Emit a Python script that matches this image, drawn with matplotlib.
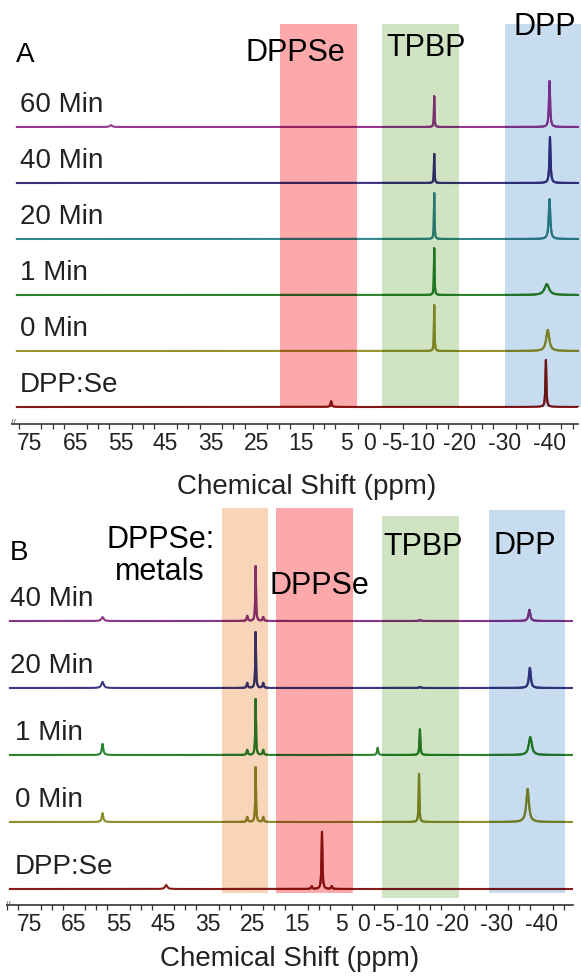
import numpy as np
import matplotlib.pyplot as plt
from matplotlib.colors import to_rgb
from matplotlib.ticker import MultipleLocator
from matplotlib.transforms import ScaledTranslation

plt.rcParams["font.family"] = ["Liberation Sans", "DejaVu Sans"]

W, H = 581, 976

# ---------------- panel A: peak lists (ppm, relative intensity, half width) ----
a_rows = ["60 Min", "40 Min", "20 Min", "1 Min", "0 Min", "DPP:Se"]
a_colors = ["#963890", "#38347e", "#32868a", "#2a842c", "#96942a", "#861818"]
a_peak_ppm = [
    [57.1, -14.4, -39.9],
    [-14.4, -40.0],
    [-14.4, -39.9],
    [-14.4, -39.3],
    [-14.4, -39.5],
    [8.4, -39.1],
]
a_peak_int = [
    [0.04, 0.66, 0.98],
    [0.62, 0.98],
    [0.98, 0.85],
    [1.00, 0.23],
    [0.98, 0.45],
    [0.12, 1.00],
]
a_peak_hw = [
    [0.3, 0.08, 0.15],
    [0.08, 0.15],
    [0.08, 0.2],
    [0.08, 0.6],
    [0.08, 0.4],
    [0.15, 0.12],
]
a_bands = [(19.7, 2.7, "#fda9ab"), (-2.9, -19.9, "#d0e4c4"), (-30.1, -47.5, "#c8dcf0")]

# ---------------- panel B ----------------
b_rows = ["40 Min", "20 Min", "1 Min", "0 Min", "DPP:Se"]
b_colors = ["#8a3686", "#3a3882", "#2a842c", "#8a8e2a", "#881a1a"]
b_peak_ppm = [
    [58.6, 26.1, 24.2, 22.5, -12.7, -37.3],
    [58.6, 26.1, 24.2, 22.5, -12.7, -37.4],
    [58.6, 26.1, 24.2, 22.5, -3.2, -12.7, -37.5],
    [58.6, 26.1, 24.2, 22.5, -12.5, -36.9],
    [44.3, 11.6, 9.3, 7.1],
]
b_peak_int = [
    [0.07, 0.09, 0.98, 0.07, 0.02, 0.20],
    [0.11, 0.09, 1.00, 0.09, 0.02, 0.36],
    [0.20, 0.09, 1.00, 0.09, 0.13, 0.46, 0.32],
    [0.16, 0.09, 0.98, 0.09, 0.86, 0.59],
    [0.07, 0.05, 1.02, 0.05],
]
b_peak_hw = [
    [0.3, 0.15, 0.1, 0.15, 0.2, 0.25],
    [0.3, 0.15, 0.1, 0.15, 0.2, 0.25],
    [0.2, 0.15, 0.1, 0.15, 0.15, 0.12, 0.4],
    [0.2, 0.15, 0.1, 0.15, 0.1, 0.35],
    [0.3, 0.15, 0.12, 0.15],
]
b_bands = [(31.7, 21.5, "#f8d4b8"), (19.6, 2.4, "#fda9ab"),
           (-4.3, -21.6, "#d0e4c4"), (-28.3, -45.3, "#c8dcf0")]

tick_vals = [75, 65, 55, 45, 35, 25, 15, 5, 0, -5, -10, -20, -30, -40]
tick_labels = ["75", "65", "55", "45", "35", "25", "15", "5", "0",
               "-5", "-10", "-20", "-30", "-40"]


def spectrum(x, ppm, inten, hw):
    y = np.zeros_like(x)
    for p, h, w in zip(ppm, inten, hw):
        y += h / (1.0 + ((x - p) / w) ** 2)
    return y


def multiply(c1, c2):
    a, b = to_rgb(c1), to_rgb(c2)
    return tuple(u * v for u, v in zip(a, b))


def px_text(fig, x, y, s, size, **kw):
    fig.text(x / W, 1 - y / H, s, fontsize=size, **kw)


def setup_axis(fig, ax, xlim, height):
    ax.set_xlim(*xlim)
    ax.set_ylim(0, height)
    for side in ["top", "right", "left"]:
        ax.spines[side].set_visible(False)
    ax.spines["bottom"].set_color("#333333")
    ax.spines["bottom"].set_linewidth(1.2)
    ax.set_yticks([])
    ax.set_xticks(tick_vals, labels=tick_labels)
    ax.xaxis.set_minor_locator(MultipleLocator(2.5))
    ax.tick_params(axis="x", which="major", length=0, pad=5.5,
                   labelsize=16.5, labelcolor="#222222")
    ax.tick_params(axis="x", which="minor", length=3.5, width=0.9,
                   color="#333333")
    ax.patch.set_alpha(0)
    # the "-10" label sits just right of its tick so it does not run into "-5"
    for lab in ax.get_xticklabels():
        if lab.get_text() == "-10":
            lab.set_transform(lab.get_transform()
                              + ScaledTranslation(4.5 / 100, 0, fig.dpi_scale_trans))


def draw_panel(ax, x, rows, colors, ppm, inten, hw, scale, base0, step, bands, spans):
    patches = []
    for (x0, x1, c), (lo, hi) in zip(bands, spans):
        p = ax.axvspan(x0, x1, ymin=lo, ymax=hi, color=c, lw=0, zorder=1,
                       clip_on=False)
        patches.append((p, c))
    bases = []
    for i in range(len(rows)):
        base = base0 - i * step
        bases.append(base)
        y = base + scale * spectrum(x, ppm[i], inten[i], hw[i])
        ax.plot(x, y, color=colors[i], lw=1.5, zorder=2)
        # inside a coloured band the trace looks tinted by the band
        for p, c in patches:
            ln, = ax.plot(x, y, color=multiply(colors[i], c), lw=1.5, zorder=2.5)
            ln.set_clip_path(p)
    return bases


fig = plt.figure(figsize=(W / 100, H / 100), dpi=100)

# ---------------- panel A ----------------
axA = fig.add_axes([12 / W, 1 - 424 / H, 566 / W, 400 / H])
setup_axis(fig, axA, (78.98, -46.2), 400)
xa = np.linspace(77.9, -46.2, 12000)
spans_a = [(17 / 400, 1.0)] * 3
bases = draw_panel(axA, xa, a_rows, a_colors, a_peak_ppm, a_peak_int, a_peak_hw,
                   47, 297, 56, a_bands, spans_a)
for name, base in zip(a_rows, bases):
    px_text(fig, 20, 424 - base - 22, name, 20, color="#222222",
            va="center", ha="left")

px_text(fig, 16, 55, "A", 20, va="center", ha="left")
px_text(fig, 245, 53, "DPPSe", 22, va="center", ha="left", zorder=5)
px_text(fig, 386, 48, "TPBP", 22, va="center", ha="left", zorder=5)
px_text(fig, 513, 27, "DPP", 22, va="center", ha="left", zorder=5)
px_text(fig, 307, 487, "Chemical Shift (ppm)", 20, va="center", ha="center",
        color="#222222")
px_text(fig, 13, 423, "//", 6, va="center", ha="center", color="#333333")

# ---------------- panel B ----------------
axB = fig.add_axes([7 / W, 1 - 905 / H, 566 / W, 397 / H])
setup_axis(fig, axB, (80.06, -47.1), 397)
xb = np.linspace(79.4, -46.9, 12000)
spans_b = [(12 / 397, 1.0), (12 / 397, 1.0), (7 / 397, 389 / 397), (12 / 397, 395 / 397)]
bases = draw_panel(axB, xb, b_rows, b_colors, b_peak_ppm, b_peak_int, b_peak_hw,
                   56, 284, 67, b_bands, spans_b)
b_label_x = [10, 10, 15, 15, 15]
for name, base, lx in zip(b_rows, bases, b_label_x):
    px_text(fig, lx, 905 - base - 22, name, 20, color="#222222",
            va="center", ha="left")

px_text(fig, 10, 553, "B", 20, va="center", ha="left")
px_text(fig, 161, 540, "DPPSe:", 22, va="center", ha="center", zorder=5)
px_text(fig, 160, 572, "metals", 22, va="center", ha="center", zorder=5)
px_text(fig, 270, 586, "DPPSe", 22, va="center", ha="left", zorder=5)
px_text(fig, 383, 547, "TPBP", 22, va="center", ha="left", zorder=5)
px_text(fig, 494, 546, "DPP", 22, va="center", ha="left", zorder=5)
px_text(fig, 290, 959, "Chemical Shift (ppm)", 20, va="center", ha="center",
        color="#222222")
px_text(fig, 8, 904, "//", 6, va="center", ha="center", color="#333333")

fig.savefig("out.png", dpi=100)
